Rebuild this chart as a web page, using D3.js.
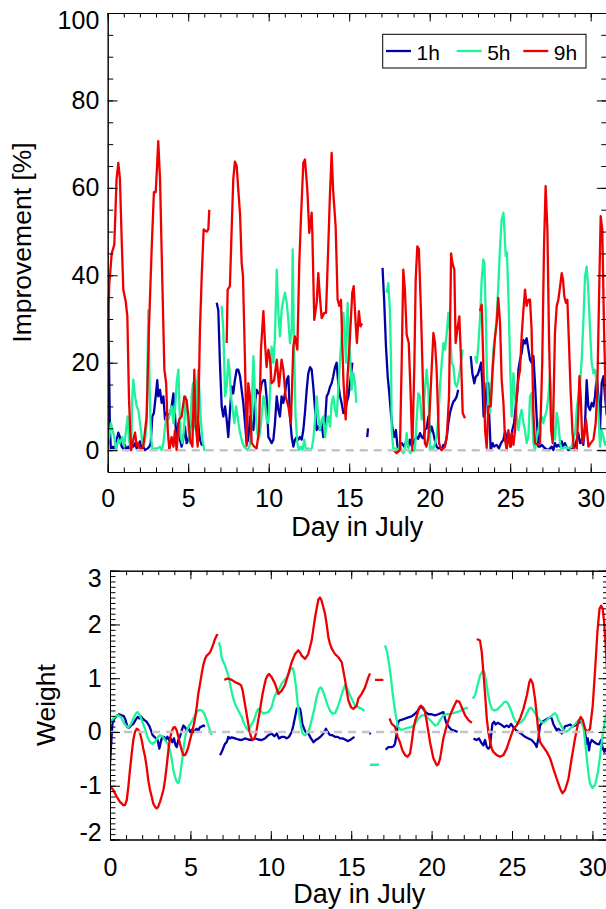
<!DOCTYPE html>
<html>
<head>
<meta charset="utf-8">
<script src="https://cdn.jsdelivr.net/npm/d3@7"></script>
<style>
  body { margin: 0; background: #fff; }
  svg { display: block; }
</style>
</head>
<body>
<svg></svg>
<script>

// series + ticks
var seriesNames = ["1h", "5h", "9h"];
var seriesColors = ["#0000aa", "#1ef29a", "#ee0000"];
var dayTicks = [0, 5, 10, 15, 20, 25, 30];
var improvementTicks = [0, 20, 40, 60, 80, 100];
var weightTicks = [-2, -1, 0, 1, 2, 3];

// improvement [%] vs day in July, null = gap
var impr1h = [[0,35],[0.04,31],[0.08,20],[0.14,4.6],[0.2,0],[0.32,0.8],[0.45,0],[0.56,2.4],[0.66,4],[0.76,3],[0.87,0.8],[0.97,0.4],[1.07,1.2],[1.18,0],[1.28,0.8],[1.38,0.4],[1.49,1.6],[1.59,0.8],[1.7,1.6],[1.8,0.4],[1.9,1.2],[2.0,2],[2.11,0.4],[2.21,0.8],[2.32,0],[2.48,0.4],[2.59,0.8],[2.67,1.6],[2.77,7.7],[2.87,8.5],[2.98,12.3],[3.08,16],[3.14,12.3],[3.25,13.8],[3.35,10.8],[3.46,12.3],[3.56,7],[3.66,8.5],[3.77,7.7],[3.87,8.5],[3.97,10],[4.08,13],[4.14,10.8],[4.22,5.4],[4.3,3],[4.39,6.2],[4.49,2.4],[4.59,0.8],[4.69,2.4],[4.8,5.4],[4.9,1.6],[5.01,2.4],[5.11,4.6],[5.21,7],[5.32,6.2],[5.42,5.4],[5.52,7],[5.59,7.7],[5.66,4.6],[5.73,2.4],[5.84,1.2],[5.94,1.2],
  null,
  [6.77,33.7],[6.87,32],[6.97,20],[7.08,10],[7.18,7.7],[7.29,10],[7.39,7],[7.49,3],[7.6,9.2],[7.7,14.6],[7.8,13],[7.9,16],[8.01,18.4],[8.11,18.4],[8.22,16.9],[8.32,13.8],[8.42,10.8],[8.53,6.2],[8.63,1.6],[8.73,2.4],[8.84,7.7],[8.94,6.2],[9.05,4.6],[9.15,10.8],[9.25,13.8],[9.36,13],[9.46,13],[9.56,15.3],[9.67,16],[9.77,16],[9.87,12],[9.98,3],[10.08,2.4],[10.18,1.6],[10.29,2.4],[10.39,6.2],[10.5,12.3],[10.6,9.2],[10.7,7.7],[10.8,12.3],[10.91,10.8],[11.01,13],[11.12,16],[11.22,16.9],[11.32,7.7],[11.43,3],[11.53,0.8],[11.63,2.4],[11.74,3],[11.84,2.4],[11.94,3],[12.05,2.4],[12.15,4.6],[12.25,8.5],[12.36,13.8],[12.46,17.6],[12.57,19],[12.67,18.4],[12.77,14.5],[12.88,9.2],[12.98,4.6],[13.08,5.4],[13.19,4.6],[13.29,6.2],[13.39,3],[13.5,6.2],[13.6,12.3],[13.7,13],[13.81,14.5],[13.91,15.3],[14.01,16.9],[14.12,19],[14.22,20],[14.32,15.3],[14.43,12.3],[14.53,10.8],[14.64,8.5],[14.74,8.5],[14.84,10.8],[14.95,12.3],[15.05,15.3],[15.15,18.4],[15.2,20],
  null,
  [16.12,3],[16.17,5],
  null,
  [17.07,41.7],[17.17,34.4],[17.28,24],[17.39,16.9],[17.49,13],[17.6,8],[17.7,4.6],[17.8,3],[17.9,4.6],[18.0,0.8],[18.1,0.4],[18.26,1.6],[18.42,0.8],[18.57,2.3],[18.67,0.8],[18.77,2.4],[18.88,1],[18.98,1.6],[19.08,2.4],[19.19,3.1],[19.29,2.6],[19.4,3.9],[19.5,3],[19.6,2.7],[19.71,4.7],[19.81,5],[19.92,7.7],[20.02,3.9],[20.12,5.4],[20.23,3.9],[20.33,2],[20.43,0.8],[20.54,0.4],[20.64,0.6],[20.75,0],[20.85,1.2],[20.95,1.2],[21.06,3],[21.16,6.2],[21.26,8.5],[21.37,10],[21.47,11.1],[21.57,11.5],[21.68,12.3],[21.77,13.8],
  null,
  [22.55,21.5],[22.65,17.6],[22.77,15.3],[22.86,16.8],[22.98,17.2],[23.08,18.4],[23.19,20],[23.27,15.3],[23.35,7.7],[23.44,8.5],[23.54,15.3],[23.64,15.3],[23.7,7.7],[23.79,0],[23.91,1.6],[24.0,0.8],[24.16,1.2],[24.3,0.4],[24.43,1.6],[24.58,2.4],[24.68,4.3],[24.8,2.4],[24.93,3.1],[25.03,0.8],[25.13,4.6],[25.24,6.2],[25.34,10],[25.44,13],[25.51,18.4],[25.61,20.7],[25.71,22.2],[25.82,25.2],[25.92,24.4],[26.02,25.6],[26.13,23],[26.23,20.7],[26.33,20],[26.44,21.5],[26.54,15.3],[26.65,7],[26.75,0.8],[26.85,0.8],[26.96,1.2],[27.16,0.4],[27.37,0],[27.58,0.8],[27.68,0],[27.78,1.6],[27.89,0.8],[27.99,1.2],[28.1,0.8],[28.2,2],[28.3,0.8],[28.4,1.6],[28.5,0.8],[28.61,0],[28.82,0.4],[28.92,1.2],[29.03,0.8],[29.13,2.4],[29.23,3.9],[29.34,1.6],[29.44,2.4],[29.54,1.2],[29.65,6.2],[29.75,16],[29.85,10],[29.96,9.2],[30.06,10.8],[30.17,10],[30.27,12.3],[30.37,16.9],[30.48,12.3],[30.58,4.6],[30.68,15.3],[30.79,16.9],[30.89,12.3],[31,8]];

var impr5h = [[0,1.6],[0.1,3],[0.2,6.2],[0.3,4.6],[0.41,3],[0.52,0],[0.66,2.4],[0.76,1.6],[0.91,3],[1.03,0.8],[1.14,4.7],[1.24,7.7],[1.32,2.4],[1.45,0],[1.53,12.3],[1.59,16.1],[1.7,12.3],[1.8,10],[1.9,9.2],[2.01,6.2],[2.11,3],[2.21,0.8],[2.32,2.4],[2.42,6.2],[2.52,32],[2.58,20],[2.63,10],[2.69,3],[2.79,0],[2.94,0.4],[3.1,0.4],[3.25,0.8],[3.35,0],[3.46,1.6],[3.56,5.4],[3.66,7.7],[3.77,7],[3.87,8.5],[3.97,10],[4.08,6.2],[4.18,9.2],[4.28,15.3],[4.39,18.4],[4.45,10.8],[4.53,3],[4.64,1.6],[4.74,4.7],[4.84,12.3],[4.93,9.2],[5.01,4.7],[5.11,1.6],[5.21,12.3],[5.3,15.3],[5.38,8.5],[5.46,4.7],[5.55,15.3],[5.63,18.4],[5.71,12.3],[5.8,6.2],[5.88,2.4],[6.0,0],[6.08,0],
  null,
  [7.08,33],[7.18,27.5],[7.29,12.3],[7.39,14.5],[7.49,20.7],[7.56,18.4],[7.66,12.3],[7.76,9.2],[7.87,6.2],[7.97,10],[8.07,7.7],[8.18,4.7],[8.28,3],[8.38,1.6],[8.48,0.8],[8.59,0.4],[8.69,0],[8.8,0.8],[8.9,3],[8.98,13.8],[9.05,21.5],[9.15,12.3],[9.25,5.4],[9.36,2.4],[9.46,3.9],[9.56,7.7],[9.67,12.3],[9.77,10.8],[9.87,7],[9.98,6.2],[10.08,13],[10.18,23.7],[10.29,20],[10.39,26],[10.5,41.3],[10.6,31.4],[10.7,26],[10.8,32],[10.91,34.4],[11.01,36],[11.12,33.7],[11.22,29.8],[11.32,24.5],[11.43,27.5],[11.49,45.9],[11.57,24.5],[11.67,7.7],[11.78,1.6],[11.88,0],[12.0,0.8],[12.1,0],[12.21,2.4],[12.32,0],[12.45,0.4],[12.57,0],[12.67,0.4],[12.77,2.4],[12.88,7],[12.98,12.3],[13.08,7.7],[13.19,4.7],[13.29,7],[13.39,7.7],[13.5,3],[13.6,6.2],[13.7,7.7],[13.81,5.4],[13.91,10.8],[14.01,12.3],[14.12,9.2],[14.22,7.7],[14.32,13.8],[14.43,20.7],[14.53,26],[14.64,31.4],[14.74,25.2],[14.8,20],[14.9,33.7],[14.99,26],[15.07,20],[15.15,13.8],[15.26,17.6],[15.36,15.3],[15.44,10.8],
  null,
  [17.33,36],[17.43,38.2],[17.53,32],[17.6,20],[17.64,4.7],[17.74,0],[17.85,0.4],[17.95,0],[18.05,-0.3],[18.15,1.6],[18.26,0],[18.36,-0.7],[18.46,0],[18.57,3.9],[18.63,1.6],[18.71,0],[18.8,-0.7],[18.88,0],[18.98,-0.3],[19.08,0],[19.19,7],[19.29,13],[19.4,12.3],[19.5,7],[19.6,7.7],[19.7,13.8],[19.81,18.4],[19.92,13.6],[20.02,0],[20.12,0.8],[20.23,0.4],[20.33,1.6],[20.43,3],[20.54,7.7],[20.64,14.6],[20.75,20],[20.85,24.5],[20.95,23],[21.06,26.8],[21.16,31.4],[21.26,27.5],[21.37,20],[21.47,19.2],[21.57,15.3],[21.68,14.5],[21.78,16],[21.88,18.4],[21.99,21.5],[22.05,23],
  null,
  [22.82,21.5],[22.92,20],[23.02,23.7],[23.13,30.6],[23.23,39],[23.33,43.6],[23.4,42.8],[23.48,31.4],[23.54,20],[23.64,9.2],[23.75,8.5],[23.85,15.3],[23.95,23],[24.06,26],[24.16,30.6],[24.26,37.5],[24.37,46.6],[24.47,52.7],[24.58,54.3],[24.64,50.5],[24.72,44.4],[24.8,45.2],[24.89,35.2],[24.99,20],[25.09,7.7],[25.2,17.6],[25.3,12.3],[25.4,7.7],[25.51,4.6],[25.61,7.7],[25.71,9.2],[25.82,6.2],[25.92,4.6],[26.02,1.6],[26.13,3.1],[26.23,12.3],[26.33,13],[26.44,1.6],[26.54,0],[26.65,3.1],[26.75,4.6],[26.85,7],[26.96,7.7],[27.06,6.2],[27.16,7.7],[27.27,9.2],[27.37,12.3],[27.47,16.9],[27.58,9.2],[27.68,4.6],[27.78,2.4],[27.89,8.5],[27.99,6.2],[28.1,1.6],[28.2,0],[28.4,0.8],[28.61,0.4],[28.82,0.8],[28.92,2.4],[29.03,3.9],[29.13,9.2],[29.23,12.3],[29.34,15.3],[29.44,20.7],[29.54,29],[29.65,39.8],[29.75,42],[29.85,36.7],[29.96,27.5],[30.06,20],[30.17,17.6],[30.27,18.4],[30.37,15.3],[30.48,8.5],[30.58,0.8],[30.68,4.6],[30.79,3],[30.89,1.2],[31,2]];

var impr9h = [[0,25],[0.1,38],[0.25,45],[0.41,47],[0.55,62],[0.66,65.7],[0.76,62],[0.87,48],[0.97,36.7],[1.12,34],[1.22,30.6],[1.32,12],[1.45,0],[1.59,2.4],[1.7,4],[1.8,1],[1.9,1.6],[2.01,0],[2.21,0.8],[2.42,7.7],[2.56,27.5],[2.73,46],[2.87,59],[2.98,59],[3.04,63],[3.14,70.7],[3.25,62],[3.39,39],[3.52,18.4],[3.63,15.3],[3.73,4.6],[3.83,0],[3.97,3],[4.08,0.8],[4.18,4.6],[4.28,0],[4.43,7],[4.59,7.7],[4.76,12.3],[4.9,11.5],[5.01,7.7],[5.11,2.4],[5.26,0.8],[5.38,18.4],[5.46,6.2],[5.59,0.8],[5.73,27.5],[5.84,39.8],[5.96,50.5],[6.15,50],[6.25,50.5],[6.31,55],
  null,
  [7.39,24.5],[7.45,36.7],[7.59,37.5],[7.7,50.5],[7.8,62],[7.9,66],[8.01,65],[8.11,59.6],[8.22,54],[8.32,42.8],[8.4,40],[8.53,20],[8.63,1],[8.73,15.3],[8.84,12.3],[8.94,1.6],[9.1,0.8],[9.25,0.4],[9.4,4.6],[9.52,23],[9.67,31.8],[9.77,24.5],[9.87,19],[9.98,23],[10.08,21],[10.18,15.3],[10.34,16],[10.5,20.7],[10.64,14.6],[10.8,20.7],[10.91,18.4],[11.05,12.3],[11.22,10],[11.38,6.2],[11.53,23.7],[11.63,26],[11.78,23],[11.9,42.8],[12.0,52.7],[12.15,65.7],[12.25,66.5],[12.4,59.6],[12.52,49.7],[12.67,54.3],[12.71,49.7],[12.83,29.8],[12.98,33.7],[13.08,40.5],[13.18,35],[13.29,30.2],[13.45,31.4],[13.56,31.4],[13.7,46.6],[13.8,58],[13.91,68],[14.0,59.6],[14.16,51],[14.28,34.4],[14.39,33],[14.49,34.4],[14.64,16],[14.78,7],[14.9,17],[15.05,26],[15.19,36],[15.28,37.5],[15.4,29],[15.48,24.5],[15.6,31.8],[15.7,28.3],[15.8,29],
  null,
  [17.74,0],[17.95,-0.7],[18.15,0],[18.26,20],[18.36,41.3],[18.46,36.7],[18.57,26.4],[18.7,24.5],[18.82,12.3],[18.92,0],[19.05,20],[19.13,39],[19.23,46.6],[19.33,46],[19.46,31.4],[19.6,12.3],[19.7,1.6],[19.8,0.8],[19.92,3],[20.08,15.3],[20.23,26.8],[20.33,24.5],[20.43,18.4],[20.58,1.6],[20.74,0],[20.95,0.8],[21.06,3],[21.2,12.3],[21.33,45],[21.41,42.8],[21.53,41.3],[21.61,24.5],[21.74,28.3],[21.84,30.6],[21.95,20.7],[22.05,8.5],[22.19,7.3],
  null,
  [23.13,31.8],[23.23,33.3],[23.33,20],[23.44,4.6],[23.54,0.5],[23.64,10],[23.79,10],[23.91,18.4],[24.06,26],[24.16,29],[24.26,34.8],[24.37,29],[24.47,16.1],[24.58,10.8],[24.68,2.4],[24.78,0],[24.89,4.6],[24.99,0.8],[25.09,3.9],[25.2,1.2],[25.3,4.6],[25.4,12.3],[25.5,16],[25.61,18.4],[25.71,26],[25.82,32],[25.92,36.7],[26.02,33],[26.13,34.4],[26.23,34.4],[26.33,27.5],[26.44,8.5],[26.54,1.6],[26.7,1.2],[26.85,1.6],[26.99,20],[27.1,46.6],[27.2,60.4],[27.31,50.5],[27.41,26],[27.54,4.6],[27.64,1.6],[27.78,26.8],[27.89,33],[27.99,34.4],[28.1,37.5],[28.2,40.5],[28.28,39],[28.36,35.2],[28.46,33.7],[28.55,34.4],[28.65,24.5],[28.75,13.8],[28.86,4.6],[28.96,0],[29.13,0],[29.23,8.5],[29.3,16.9],[29.38,12.3],[29.48,1.6],[29.59,3.1],[29.71,7],[29.86,0.8],[30.0,1.6],[30.17,2.4],[30.31,6.2],[30.41,13.8],[30.52,35.2],[30.62,53.5],[30.72,50.5],[30.83,27.5],[30.93,12.3],[31,8]];

// weight vs day in July
var weight1h = [[0,-0.59],[0.06,-0.28],[0.15,0.15],[0.27,0.25],[0.41,0.29],[0.56,0.33],[0.73,0.31],[0.87,0.29],[0.97,0.22],[1.08,0.09],[1.18,0.08],[1.31,0.12],[1.45,0.15],[1.6,0.23],[1.72,0.28],[1.82,0.25],[1.93,0.29],[2.03,0.25],[2.14,0.22],[2.28,0.19],[2.43,0.12],[2.55,0.03],[2.65,-0.06],[2.76,-0.09],[2.86,-0.12],[2.96,-0.15],[3.07,-0.31],[3.15,-0.19],[3.25,-0.09],[3.36,-0.09],[3.46,-0.15],[3.57,-0.09],[3.67,-0.15],[3.77,-0.12],[3.88,-0.19],[3.98,-0.12],[4.08,-0.25],[4.15,-0.28],[4.25,-0.15],[4.35,-0.09],[4.46,0.03],[4.56,0.12],[4.66,0.09],[4.77,0.03],[4.87,0.08],[4.98,0],[5.08,0.04],[5.18,0],[5.29,0.03],[5.39,0.06],[5.49,0.03],[5.6,0.09],[5.7,0.1],[5.8,0.12],[5.91,0.1],
  null,
  [6.84,-0.43],[6.9,-0.4],[6.99,-0.34],[7.07,-0.28],[7.15,-0.22],[7.26,-0.19],[7.36,-0.09],[7.46,-0.12],[7.57,-0.1],[7.77,-0.12],[7.98,-0.14],[8.19,-0.15],[8.4,-0.12],[8.6,-0.14],[8.81,-0.15],[9.02,-0.12],[9.22,-0.14],[9.43,-0.15],[9.64,-0.12],[9.85,-0.06],[10.05,-0.03],[10.22,-0.08],[10.37,-0.03],[10.51,-0.12],[10.68,-0.09],[10.84,-0.09],[10.99,-0.12],[11.13,-0.09],[11.3,0],[11.4,0.12],[11.51,0.28],[11.61,0.43],[11.71,0.46],[11.82,0.43],[11.88,0.34],[11.96,0.15],[12.07,0.06],[12.17,0],[12.34,-0.03],[12.5,-0.12],[12.65,-0.19],[12.79,-0.15],[12.96,-0.12],[13.12,-0.08],[13.27,-0.03],[13.43,0.06],[13.54,0],[13.68,-0.06],[13.83,-0.06],[13.99,-0.09],[14.16,-0.09],[14.3,-0.12],[14.45,-0.12],[14.62,-0.14],[14.78,-0.17],[14.93,-0.15],[15.07,-0.12],[15.2,-0.09],
  null,
  [16.15,-0.02],[16.21,-0.04],
  null,
  [17.14,-0.33],[17.31,-0.28],[17.48,-0.28],[17.62,-0.27],[17.72,-0.22],[17.83,-0.03],[17.93,0.19],[18.04,0.22],[18.18,0.23],[18.35,0.25],[18.55,0.27],[18.76,0.29],[18.93,0.33],[19.07,0.37],[19.22,0.43],[19.34,0.48],[19.49,0.43],[19.63,0.37],[19.8,0.33],[20.0,0.33],[20.21,0.31],[20.42,0.33],[20.58,0.35],[20.73,0.37],[20.83,0.25],[20.94,0.15],[21.08,0.09],[21.25,0.04],[21.46,0.02],[21.62,0],
  null,
  [22.6,-0.12],[22.8,-0.15],[22.95,-0.12],[23.07,-0.19],[23.22,-0.25],[23.32,-0.15],[23.43,-0.28],[23.53,-0.31],[23.63,-0.28],[23.69,-0.09],[23.78,0.15],[23.88,0.19],[23.98,0.14],[24.11,0.17],[24.25,0.15],[24.4,0.12],[24.52,0.09],[24.67,0.12],[24.81,0.09],[24.94,0.15],[25.08,0.09],[25.23,0.04],[25.39,0],[25.6,-0.04],[25.81,-0.09],[26.02,-0.12],[26.22,-0.15],[26.43,-0.22],[26.53,-0.28],[26.64,-0.12],[26.74,0.12],[26.89,0.19],[27.05,0.22],[27.22,0.25],[27.36,0.27],[27.47,0.25],[27.57,0.15],[27.67,0.09],[27.78,0.03],[27.88,0.06],[27.99,0.03],[28.09,-0.03],[28.19,0.03],[28.3,0.11],[28.46,0.12],[28.61,0.14],[28.75,0.1],[28.92,0.12],[29.08,0.15],[29.23,0.19],[29.37,0.17],[29.5,0.09],[29.58,-0.09],[29.64,-0.22],[29.71,-0.12],[29.79,-0.34],[29.85,-0.22],[29.96,-0.15],[30.12,-0.19],[30.27,-0.22],[30.41,-0.23],[30.54,-0.15],[30.62,-0.28],[30.74,-0.37],[30.9,-0.3],[31,-0.35]];

var weight5h = [[0,0.15],[0.1,0.22],[0.31,0.28],[0.52,0.31],[0.68,0.28],[0.83,0.19],[0.97,0.12],[1.14,0.09],[1.31,0.15],[1.45,0.25],[1.6,0.34],[1.72,0.37],[1.87,0.31],[2.01,0.19],[2.18,0.06],[2.32,-0.09],[2.49,-0.19],[2.63,-0.22],[2.8,-0.19],[2.96,-0.1],[3.11,-0.06],[3.25,-0.08],[3.42,-0.15],[3.59,-0.22],[3.73,-0.34],[3.83,-0.49],[3.94,-0.71],[4.04,-0.83],[4.15,-0.93],[4.25,-0.95],[4.35,-0.83],[4.46,-0.59],[4.56,-0.34],[4.66,-0.12],[4.77,0.03],[4.87,0.09],[4.98,0.15],[5.08,0.19],[5.18,0.25],[5.29,0.31],[5.39,0.37],[5.49,0.4],[5.6,0.41],[5.7,0.4],[5.8,0.37],[5.91,0.31],[6.01,0.22],[6.12,0.12],[6.22,0.03],[6.32,-0.06],
  null,
  [6.78,1.67],[6.86,1.58],[6.94,1.39],[7.05,1.3],[7.15,1.24],[7.26,1.14],[7.36,1.05],[7.46,0.9],[7.57,0.74],[7.67,0.62],[7.77,0.53],[7.88,0.46],[7.98,0.4],[8.08,0.34],[8.19,0.28],[8.29,0.19],[8.4,0.12],[8.5,0.06],[8.6,0.03],[8.71,0.09],[8.81,0.15],[8.91,0.19],[9.02,0.28],[9.12,0.37],[9.22,0.43],[9.33,0.4],[9.43,0.37],[9.54,0.34],[9.64,0.35],[9.85,0.37],[10.05,0.46],[10.22,0.65],[10.37,0.74],[10.51,0.8],[10.68,0.9],[10.84,0.96],[10.99,1.01],[11.13,1.09],[11.26,1.18],[11.36,1.19],[11.46,1.08],[11.57,0.83],[11.67,0.53],[11.78,0.28],[11.88,0.09],[11.98,-0.03],[12.13,-0.06],[12.27,-0.02],[12.4,0.06],[12.54,0.22],[12.71,0.43],[12.85,0.65],[13.0,0.8],[13.12,0.83],[13.23,0.77],[13.37,0.65],[13.54,0.49],[13.68,0.4],[13.83,0.34],[13.99,0.35],[14.16,0.46],[14.3,0.59],[14.45,0.74],[14.62,0.87],[14.76,0.8],[14.93,0.68],[15.07,0.59],[15.24,0.49],[15.44,0.46],[15.65,0.43],[15.82,0.39],
  null,
  [16.17,-0.61],[16.73,-0.61],
  null,
  [17.1,1.61],[17.23,1.49],[17.35,1.27],[17.48,0.99],[17.58,0.71],[17.68,0.49],[17.79,0.28],[17.89,0.12],[17.99,0.06],[18.14,0.04],[18.35,0.06],[18.55,0.08],[18.76,0.09],[18.97,0.15],[19.18,0.25],[19.38,0.31],[19.59,0.31],[19.8,0.25],[20.0,0.19],[20.21,0.12],[20.38,0.14],[20.52,0.22],[20.73,0.31],[20.94,0.33],[21.14,0.33],[21.35,0.35],[21.56,0.37],[21.77,0.39],[21.97,0.42],[22.18,0.45],[22.24,0.43],
  null,
  [22.55,0.62],[22.7,0.68],[22.8,0.8],[22.91,0.93],[23.01,1.05],[23.16,1.13],[23.28,1.11],[23.38,0.96],[23.49,0.74],[23.63,0.53],[23.74,0.43],[23.9,0.4],[24.05,0.41],[24.19,0.45],[24.36,0.5],[24.52,0.56],[24.67,0.56],[24.81,0.5],[24.94,0.4],[25.08,0.28],[25.23,0.19],[25.39,0.15],[25.6,0.19],[25.77,0.25],[25.91,0.34],[26.06,0.43],[26.18,0.45],[26.33,0.4],[26.47,0.33],[26.64,0.25],[26.8,0.19],[26.95,0.17],[27.09,0.2],[27.26,0.25],[27.43,0.29],[27.57,0.33],[27.67,0.35],[27.78,0.31],[27.88,0.22],[28.05,0.12],[28.19,0.04],[28.34,0],[28.5,0.03],[28.71,0.09],[28.92,0.15],[29.13,0.22],[29.29,0.22],[29.44,0.09],[29.54,-0.15],[29.64,-0.46],[29.75,-0.77],[29.85,-0.96],[30.0,-1.04],[30.16,-0.99],[30.33,-0.77],[30.47,-0.46],[30.62,-0.09],[30.78,0.22],[31,0.5]];

var weight9h = [[0,-1.01],[0.21,-1.08],[0.41,-1.2],[0.62,-1.3],[0.83,-1.36],[0.93,-1.36],[1.04,-1.27],[1.14,-1.02],[1.24,-0.71],[1.35,-0.4],[1.45,-0.15],[1.55,0],[1.66,0.06],[1.76,0.04],[1.87,-0.03],[1.97,-0.15],[2.07,-0.31],[2.18,-0.46],[2.28,-0.65],[2.38,-0.9],[2.49,-1.08],[2.59,-1.2],[2.69,-1.33],[2.8,-1.39],[2.9,-1.42],[3.0,-1.39],[3.11,-1.3],[3.21,-1.2],[3.32,-1.08],[3.42,-0.9],[3.52,-0.65],[3.63,-0.34],[3.73,-0.12],[3.83,0],[3.94,0.08],[4.04,0.09],[4.15,0.03],[4.25,-0.09],[4.35,-0.22],[4.46,-0.34],[4.56,-0.43],[4.66,-0.43],[4.77,-0.37],[4.87,-0.28],[4.98,-0.15],[5.08,-0.03],[5.18,0.09],[5.29,0.25],[5.39,0.46],[5.49,0.71],[5.6,0.9],[5.7,1.08],[5.8,1.24],[5.91,1.36],[6.01,1.42],[6.12,1.45],[6.22,1.48],[6.32,1.55],[6.43,1.64],[6.53,1.73],[6.63,1.79],[6.7,1.82],
  null,
  [7.11,0.97],[7.26,0.99],[7.4,0.99],[7.57,0.97],[7.77,0.93],[7.98,0.9],[8.15,0.87],[8.25,0.77],[8.35,0.59],[8.46,0.4],[8.56,0.22],[8.66,0.03],[8.77,-0.09],[8.87,-0.15],[8.98,-0.12],[9.08,-0.03],[9.18,0.15],[9.29,0.34],[9.39,0.53],[9.49,0.71],[9.6,0.87],[9.7,0.99],[9.8,1.05],[9.89,1.08],[10.05,1.02],[10.26,0.9],[10.47,0.71],[10.68,0.77],[10.88,0.87],[11.09,1.08],[11.3,1.3],[11.51,1.45],[11.71,1.52],[11.82,1.48],[11.92,1.42],[12.13,1.36],[12.33,1.45],[12.54,1.7],[12.75,2.13],[12.96,2.47],[13.06,2.5],[13.16,2.44],[13.37,2.2],[13.47,2.01],[13.58,1.76],[13.68,1.64],[13.79,1.55],[13.99,1.45],[14.2,1.39],[14.41,1.3],[14.51,1.14],[14.62,0.96],[14.72,0.77],[14.82,0.59],[14.99,0.46],[15.13,0.43],[15.34,0.49],[15.44,0.62],[15.65,0.71],[15.86,0.83],[16.07,1.02],[16.17,1.09],
  null,
  [16.48,0.97],[17.0,0.97],
  null,
  [17.38,0.25],[17.52,0.15],[17.72,0.1],[17.89,-0.09],[18.04,-0.2],[18.18,-0.34],[18.35,-0.43],[18.5,-0.46],[18.66,-0.4],[18.76,-0.2],[18.87,0.05],[18.97,0.2],[19.08,0.3],[19.22,0.45],[19.34,0.49],[19.49,0.45],[19.59,0.37],[19.7,0.19],[19.9,-0.19],[20.11,-0.49],[20.32,-0.62],[20.42,-0.6],[20.53,-0.49],[20.73,-0.12],[20.94,0.12],[21.15,0.31],[21.36,0.46],[21.56,0.58],[21.73,0.56],[21.87,0.46],[22.08,0.31],[22.29,0.22],[22.5,0.17],
  null,
  [22.81,1.73],[23.01,1.7],[23.12,1.48],[23.22,1.11],[23.33,0.68],[23.43,0.25],[23.53,0],[23.64,-0.19],[23.74,-0.31],[23.84,-0.37],[24.05,-0.43],[24.26,-0.46],[24.46,-0.43],[24.67,-0.31],[24.88,-0.12],[25.09,0.06],[25.29,0.12],[25.5,0.25],[25.71,0.43],[25.92,0.68],[26.08,0.93],[26.16,0.98],[26.29,0.9],[26.43,0.62],[26.54,0.31],[26.64,0],[26.75,-0.19],[26.95,-0.28],[27.16,-0.37],[27.37,-0.49],[27.57,-0.68],[27.78,-0.87],[27.99,-1.05],[28.13,-1.14],[28.3,-1.08],[28.51,-0.87],[28.71,-0.49],[28.92,-0.12],[29.13,0.19],[29.27,0.28],[29.4,0.22],[29.54,0.06],[29.69,0],[29.85,0.06],[30.02,0.49],[30.17,1.17],[30.31,1.86],[30.44,2.29],[30.54,2.35],[30.64,2.29],[30.73,2.04],[30.81,1.67],[30.9,1.2],[31,0.8]];


var width = 606;
var height = 909;
var font = '"Liberation Sans", Arial, Helvetica, sans-serif';

var svg = d3.select('svg')
              .attr('width', width)
              .attr('height', height)
              .style('font-family', font);

function drawPanel(p) {
  var x = d3.scaleLinear()
            .domain([0, 31])
            .range([p.left, p.right]);
  var y = d3.scaleLinear()
            .domain(p.yDomain)
            .range([p.bottom, p.top]);

  svg.append('clipPath')
      .attr('id', 'clip-' + p.id)
    .append('rect')
      .attr('x', p.left)
      .attr('y', p.top)
      .attr('width', p.right - p.left)
      .attr('height', p.bottom - p.top);

  var line = d3.line()
               .defined(d => d !== null)
               .x(d => x(d[0]))
               .y(d => y(d[1]));

  p.series.forEach(function(s, i) {
    svg.append('path')
        .attr('d', line(s))
        .attr('fill', 'none')
        .attr('stroke', seriesColors[i])
        .attr('stroke-width', 2.3)
        .attr('stroke-linejoin', 'round')
        .attr('clip-path', 'url(#clip-' + p.id + ')');
  });

  // dashed zero line sits on top of the curves
  svg.append('line')
      .attr('x1', x(0))
      .attr('x2', x(31))
      .attr('y1', y(0))
      .attr('y2', y(0))
      .attr('stroke', '#c4c4c4')
      .attr('stroke-width', 2.5)
      .attr('stroke-dasharray', '8,6')
      .attr('clip-path', 'url(#clip-' + p.id + ')');

  // minor ticks first, then major with labels
  var axes = [
    [d3.axisBottom(x).tickValues(p.xMinor).tickSize(-4.5).tickFormat(''), `translate(0,${p.bottom})`],
    [d3.axisTop(x).tickValues(p.xMinor).tickSize(-4.5).tickFormat(''), `translate(0,${p.top})`],
    [d3.axisLeft(y).tickValues(p.yMinor).tickSize(-5.5).tickFormat(''), `translate(${p.left},0)`],
    [d3.axisRight(y).tickValues(p.yMinor).tickSize(-5.5).tickFormat(''), `translate(${p.right},0)`],
    [d3.axisTop(x).tickValues(dayTicks).tickSize(-8.5).tickFormat(''), `translate(0,${p.top})`],
    [d3.axisRight(y).tickValues(p.yTicks).tickSize(-10).tickFormat(''), `translate(${p.right},0)`]
  ];
  axes.forEach(function(a) {
    svg.append('g')
        .attr('transform', a[1])
        .call(a[0].tickSizeOuter(0))
        .call(g => g.selectAll('line,path').attr('stroke', '#000'));
  });

  svg.append('g')
      .attr('transform', `translate(0,${p.bottom})`)
      .call(d3.axisBottom(x).tickValues(dayTicks).tickSize(-8.5).tickSizeOuter(0).tickPadding(p.xPad))
      .call(g => g.selectAll('line,path').attr('stroke', '#000'))
      .call(g => g.selectAll('text').attr('fill', '#000'))
      .attr('font-size', 25)
      .attr('font-family', font);

  // plain hyphen minus like the original, labels kept inside the frame at the ends
  svg.append('g')
      .attr('transform', `translate(${p.left},0)`)
      .call(d3.axisLeft(y).tickValues(p.yTicks).tickSize(-10).tickSizeOuter(0).tickPadding(8.4).tickFormat(d => String(d)))
      .call(g => g.selectAll('line,path').attr('stroke', '#000'))
      .call(g => g.selectAll('text')
                   .attr('fill', '#000')
                   .attr('transform', function(d) {
                     var ty = y(d);
                     var cy = Math.min(Math.max(ty, p.top + 7.5), p.bottom - 7.5);
                     return `translate(0,${cy - ty})`;
                   }))
      .attr('font-size', 25)
      .attr('font-family', font);

  svg.append('text')
      .attr('x', (p.left + p.right) / 2)
      .attr('y', p.xTitleY)
      .attr('text-anchor', 'middle')
      .attr('font-size', 27)
      .text('Day in July');

  svg.append('text')
      .attr('transform', `translate(${p.yTitleX},${(p.top + p.bottom) / 2}) rotate(-90)`)
      .attr('text-anchor', 'middle')
      .attr('font-size', 26.5)
      .text(p.yTitle);
}

drawPanel({
  id: 'improvement',
  left: 107.7, right: 606.8, top: 13, bottom: 472,
  yDomain: [-5, 100],
  yTicks: improvementTicks,
  yMinor: d3.range(0, 101, 5),
  xMinor: d3.range(0, 32),
  xPad: 17.5,
  xTitleY: 536,
  yTitleX: 31,
  yTitle: 'Improvement [%]',
  series: [impr1h, impr5h, impr9h]
});

drawPanel({
  id: 'weight',
  left: 110, right: 608.5, top: 570.7, bottom: 839.5,
  yDomain: [-2, 3],
  yTicks: weightTicks,
  yMinor: d3.range(-20, 31).map(i => i / 10),
  xMinor: d3.range(0, 32),
  xPad: 18.8,
  xTitleY: 903,
  yTitleX: 55,
  yTitle: 'Weight',
  series: [weight1h, weight5h, weight9h]
});

// legend box, top right of first panel
var legend = svg.append('g');
legend.append('rect')
    .attr('x', 382.7)
    .attr('y', 34.3)
    .attr('width', 203.3)
    .attr('height', 33.7)
    .attr('fill', '#fff')
    .attr('stroke', '#000')
    .attr('stroke-width', 1);

var legendX = [386, 456.7, 523.3];
seriesNames.forEach(function(name, i) {
  legend.append('line')
      .attr('x1', legendX[i])
      .attr('x2', legendX[i] + 25)
      .attr('y1', 51)
      .attr('y2', 51)
      .attr('stroke', seriesColors[i])
      .attr('stroke-width', 2.3);
  legend.append('text')
      .attr('x', legendX[i] + 30.5)
      .attr('y', 60)
      .attr('font-size', 21)
      .text(name);
});

</script>
</body>
</html>
